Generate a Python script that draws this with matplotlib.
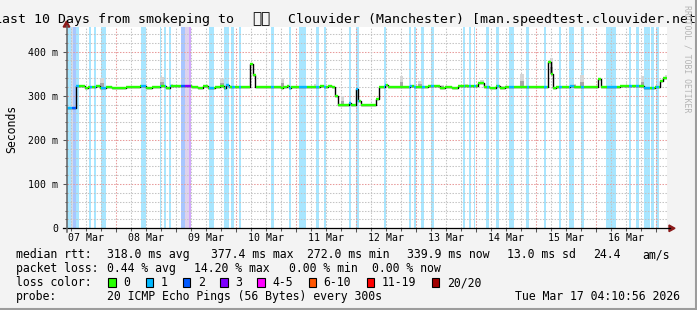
import numpy as np
import matplotlib.pyplot as plt
from matplotlib.lines import Line2D
from matplotlib.patches import Rectangle, Polygon
from matplotlib.transforms import blended_transform_factory

# x values are hours since Sat Mar 07 04:10:56 2026 (10 day window)
median_hours = [0.0, 3.6, 6.2, 7.4, 8.6, 11.8, 13.4, 15.8, 18.2, 23.8, 26.2, 29.4, 31.8,
                34.2, 37.4, 39.8, 41.4, 45.8, 50.2, 52.6, 54.6, 56.6, 59.4, 61.4, 63.0,
                63.8, 65.0, 73.3, 74.6, 75.5, 85.8, 86.6, 88.2, 89.0, 89.8, 95.4, 101.4,
                103.0, 104.6, 106.2, 107.4, 108.6, 113.0, 113.8, 115.6, 116.6, 117.6,
                123.8, 124.8, 127.4, 128.6, 133.4, 137.4, 139.0, 144.6, 149.4, 151.4,
                154.2, 156.6, 164.6, 167.0, 169.4, 171.8, 173.4, 175.4, 192.6, 193.7,
                194.6, 195.8, 201.4, 203.0, 212.6, 213.7, 221.4, 229.4, 231.0, 233.4,
                235.4, 237.3, 238.6]
median_ms = [272, 321, 322, 318, 320, 321, 318, 320, 318, 319, 320, 321, 318,
             320, 321, 318, 322, 321, 320, 318, 321, 318, 320, 321, 318,
             325, 320, 372, 346, 320, 318, 320, 322, 318, 320, 319, 322,
             320, 323, 320, 300, 279, 283, 279, 315, 288, 279,
             293, 320, 325, 320, 319, 322, 320, 321, 318, 320,
             318, 321, 328, 320, 318, 321, 318, 320, 377, 349,
             318, 320, 322, 320, 337, 320, 321, 322, 318, 317,
             320, 334, 340]

# periods with packet loss (pings lost out of 20)
loss_start = [0.0, 1.9, 3.6, 9.1, 11.1, 13.7, 29.8, 37.2, 39.1, 41.1, 45.8, 47.4, 57.0,
              63.1, 65.9, 68.9, 81.8, 89.0, 93.0, 99.8, 103.0, 113.0, 115.7, 127.0,
              137.0, 139.0, 141.8, 145.7, 158.7, 161.0, 162.9, 167.9, 171.9, 177.0,
              183.9, 191.0, 196.9, 201.0, 205.7, 215.9, 224.9, 227.7, 230.9, 233.9, 235.7]
loss_end = [1.9, 3.6, 5.0, 9.9, 11.8, 15.7, 31.8, 37.7, 39.7, 41.7, 47.4, 49.8, 59.0,
            65.1, 67.1, 69.8, 83.0, 89.8, 95.9, 101.0, 103.8, 113.8, 117.0, 127.7,
            137.8, 139.7, 143.1, 147.0, 159.4, 161.7, 163.5, 168.9, 172.9, 179.0,
            185.0, 191.9, 197.9, 203.0, 207.0, 219.9, 225.9, 228.9, 233.3, 235.0, 236.9]
loss_count = [1, 2, 1, 1, 1, 1, 1, 1, 1, 1, 2, 3, 1,
              1, 1, 1, 1, 1, 1, 1, 1, 1, 1, 1,
              1, 1, 1, 1, 1, 1, 1, 1, 1, 1,
              1, 1, 1, 1, 1, 1, 1, 1, 1, 1, 1]

# smoke (rtt spread) peaks above the median
smoke_start = [13.5, 37.5, 41.7, 61.4, 85.8, 99.0, 109.8, 133.4, 140.6, 149.7, 158.6,
               165.4, 173.7, 181.4, 193.3, 202.2, 205.4, 223.8, 229.7, 239.3]
smoke_end = [14.9, 38.9, 42.7, 62.9, 87.0, 99.8, 110.9, 134.6, 142.1, 151.0, 160.6,
             166.9, 175.7, 182.9, 194.6, 203.7, 206.9, 224.3, 231.0, 240.0]
smoke_top = [340, 343, 326, 338, 341, 327, 300, 344, 334, 325, 326,
             336, 323, 349, 385, 326, 346, 330, 344, 348]
# very wide smoke, goes over the whole scale
wide_smoke_start = [1.7, 47.4]
wide_smoke_end = [2.7, 49.0]

day_labels = ['07 Mar', '08 Mar', '09 Mar', '10 Mar', '11 Mar', '12 Mar', '13 Mar',
              '14 Mar', '15 Mar', '16 Mar']
first_midnight = 19.818

loss_names = ['0', '1', '2', '3', '4-5', '6-10', '11-19', '20/20']
loss_colors = ['#26ff00', '#00b8ff', '#0059ff', '#7e00ff', '#ff00ff', '#ff5500',
               '#ff0000', '#a10000']

stats_rtt = ['318.0 ms avg', '377.4 ms max', '272.0 ms min', '339.9 ms now',
             '13.0 ms sd', '24.4', 'am/s']
stats_loss = ['0.44 % avg', '14.20 % max', '0.00 % min', '0.00 % now']


def loss_index(n):
    if n <= 3:
        return n
    if n <= 5:
        return 4
    if n <= 10:
        return 5
    if n <= 19:
        return 6
    return 7


W, H = 697, 310
MONO = 'DejaVu Sans Mono'


def fx(px):
    return px / W


def fy(py):
    return 1 - py / H


fig = plt.figure(figsize=(W / 100, H / 100), dpi=100, facecolor='#f3f3f3')
ax = fig.add_axes([fx(66.5), fy(228.3), 600 / W, 201 / H])
ax.set_facecolor('white')
ax.set_xlim(0, 240)
ax.set_ylim(0, 455)
for s in ax.spines.values():
    s.set_visible(False)

# loss background
for s, e, n in zip(loss_start, loss_end, loss_count):
    ax.axvspan(s, e, color=loss_colors[loss_index(n)], alpha=0.34, lw=0, zorder=1)
for s, e in zip(wide_smoke_start, wide_smoke_end):
    ax.axvspan(s, e, color='#e4e4e4', alpha=0.7, lw=0, zorder=1.5)

# grid
dot = (0, (1.4, 1.4))
for v in range(20, 455, 20):
    c = '#e89a9a' if v % 100 == 0 else '#c4c4c4'
    ax.axhline(v, color=c, lw=0.75, ls=dot, zorder=2)
six_h = np.arange(first_midnight - 18, 240, 6)
for h in six_h:
    c = '#e89a9a' if abs((h - first_midnight) % 24) < 0.01 else '#c4c4c4'
    ax.axvline(h, color=c, lw=0.75, ls=dot, zorder=2)

# smoke
med_h = np.array(median_hours)
med_v = np.array(median_ms)
for s, e, top in zip(smoke_start, smoke_end, smoke_top):
    base = med_v[np.searchsorted(med_h, (s + e) / 2, side='right') - 1]
    ax.add_patch(Rectangle((s, base), e - s, top - base, color='#d6d6d6', lw=0, zorder=3))
    ax.add_patch(Rectangle((s, base), e - s, (top - base) * 0.45, color='#a6a6a6', lw=0, zorder=3))

# median line: black steps, then loss coloured levels
ax.step(median_hours + [240], median_ms + [median_ms[-1]], where='post',
        color='black', lw=1.0, zorder=4)
cols = np.arange(0, 240, 0.4)
col_val = med_v[np.searchsorted(med_h, cols + 0.2, side='right') - 1]
col_loss = np.zeros(len(cols), dtype=int)
for s, e, n in zip(loss_start, loss_end, loss_count):
    col_loss[(cols + 0.2 >= s) & (cols + 0.2 < e)] = loss_index(n)
i = 0
while i < len(cols):
    j = i
    while j + 1 < len(cols) and col_val[j + 1] == col_val[i] and col_loss[j + 1] == col_loss[i]:
        j += 1
    ax.hlines(col_val[i], cols[i], cols[j] + 0.4, color=loss_colors[col_loss[i]],
              lw=1.7, zorder=5)
    i = j + 1

# ticks
ax.set_yticks([0, 100, 200, 300, 400], ['0', '100 m', '200 m', '300 m', '400 m'])
ax.set_yticks(np.arange(0, 455, 20), minor=True)
ax.tick_params(axis='y', which='major', length=3, width=0.75, color='#555555', pad=3,
               labelsize=7.1, labelfontfamily=MONO)
ax.tick_params(axis='y', which='minor', length=1.5, width=0.75, color='#555555')
ax.set_xticks(np.arange(first_midnight, 240, 24), [])
ax.set_xticks(six_h, minor=True)
ax.tick_params(axis='x', which='major', length=3, width=0.75, color='#555555')
ax.tick_params(axis='x', which='minor', length=2, width=0.75, color='#555555')
tr = blended_transform_factory(ax.transData, fig.transFigure)
for k, lab in enumerate(day_labels):
    ax.text(first_midnight - 12 + 24 * k, fy(240.7), lab, transform=tr, ha='center',
            va='baseline', fontsize=7.1, family=MONO, clip_on=False)

# axis lines and arrows
fig.add_artist(Line2D([fx(63), fx(670)], [fy(228.3), fy(228.3)], color='black', lw=0.9))
fig.add_artist(Line2D([fx(66.5), fx(66.5)], [fy(232), fy(26)], color='#606060', lw=1.1))
fig.add_artist(Polygon([(fx(669), fy(225)), (fx(675), fy(228.3)), (fx(669), fy(231.6))],
                       closed=True, color='#8b1a1a', transform=fig.transFigure))
fig.add_artist(Polygon([(fx(63.2), fy(27)), (fx(66.5), fy(21)), (fx(69.8), fy(27))],
                       closed=True, color='#8b1a1a', transform=fig.transFigure))

# title (wider than the image, cut at both sides)
fig.text(fx(-6.25), fy(23.3), 'Last 10 Days from smokeping to', fontsize=9.5,
         family=MONO, va='baseline', ha='left')
fig.text(fx(261), fy(23.3), '\U0001F1EC\U0001F1E7', fontsize=11,
         family=[MONO, 'Noto Sans', 'DejaVu Sans', 'Noto Sans CJK SC'],
         va='baseline', ha='center')
fig.text(fx(288), fy(23.3), 'Clouvider (Manchester) [man.speedtest.clouvider.net]',
         fontsize=9.5, family=MONO, va='baseline', ha='left')

fig.text(fx(11.5), fy(128.5), 'Seconds', rotation=90, fontsize=8.3, family=MONO,
         ha='center', va='center')
fig.text(fx(687), fy(5), 'RRDTOOL / TOBI OETIKER', rotation=270, fontsize=5.9,
         family=MONO, ha='center', va='top', color='#b4b4b4')

# legend block
cw = 6.97
fs = 8.3
fig.text(fx(16), fy(258), 'median rtt:', fontsize=fs, family=MONO, va='baseline')
for x, t in zip([107.3, 210.7, 307.3, 407.3, 507.3, 593.3, 642.7], stats_rtt):
    fig.text(fx(x), fy(258), t, fontsize=fs, family=MONO, va='baseline')
fig.text(fx(16), fy(272), 'packet loss:', fontsize=fs, family=MONO, va='baseline')
for x, t in zip([107.3, 194, 289.3, 372.3], stats_loss):
    fig.text(fx(x), fy(272), t, fontsize=fs, family=MONO, va='baseline')
fig.text(fx(16), fy(286), 'loss color:', fontsize=fs, family=MONO, va='baseline')
bx = 108.3
for name, c in zip(loss_names, loss_colors):
    fig.add_artist(Rectangle((fx(bx), fy(286.5)), 7.5 / W, 8.5 / H, facecolor=c,
                             edgecolor='black', lw=0.8, transform=fig.transFigure))
    fig.text(fx(bx + 15), fy(286), name, fontsize=fs, family=MONO, va='baseline')
    bx = bx + 15 + len(name) * cw + 15.3
fig.text(fx(16), fy(300), 'probe:', fontsize=fs, family=MONO, va='baseline')
fig.text(fx(107.3), fy(300), '20 ICMP Echo Pings (56 Bytes) every 300s', fontsize=fs,
         family=MONO, va='baseline')
fig.text(fx(680), fy(300), 'Tue Mar 17 04:10:56 2026', fontsize=fs, family=MONO,
         va='baseline', ha='right')

# frame
fig.add_artist(Line2D([fx(0), fx(697)], [fy(309), fy(309)], color='#9c9c9c', lw=1.5))
fig.add_artist(Line2D([fx(696), fx(696)], [fy(0), fy(310)], color='#9c9c9c', lw=1.5))

fig.savefig('out.png', dpi=100, facecolor=fig.get_facecolor())
